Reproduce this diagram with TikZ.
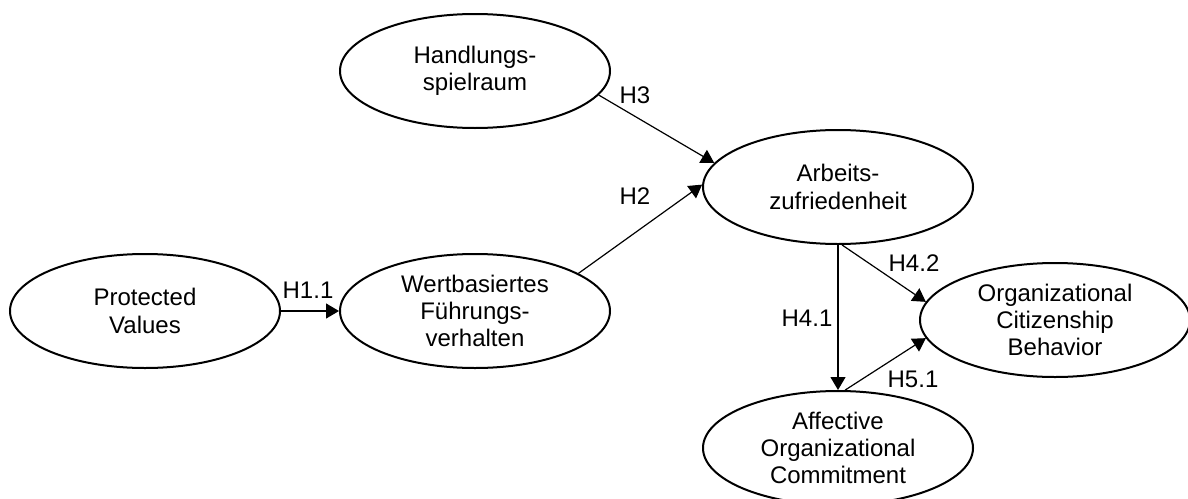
\documentclass[tikz,border=0pt]{standalone}
\usepackage{fontspec}
\setmainfont{Liberation Sans}
\usetikzlibrary{shapes.geometric,arrows.meta}
\begin{document}
\begin{tikzpicture}[x=0.5pt,y=-0.5pt,
  construct/.style={draw=black, line width=1pt, ellipse, minimum width=135pt, minimum height=57pt,
    inner sep=0pt, align=center, font=\fontsize{12}{13.6}\selectfont},
  arr/.style={draw=black, line width=0.6pt, -{Triangle[length=6.5pt,width=7.5pt]}},
  lab/.style={inner sep=0pt, font=\fontsize{12}{13.6}\selectfont}]
\useasboundingbox[fill=white] (0,0) rectangle (1188,498);
\node[construct] (hand) at (475,71) {Handlungs-\\spielraum};
\node[construct] (arb) at (838,187) {Arbeits-\\zufriedenheit};
\node[construct] (prot) at (145,311) {Protected\\Values};
\node[construct] (wert) at (475,311) {Wertbasiertes\\Führungs-\\verhalten};
\node[construct] (ocb) at (1055,320) {Organizational\\Citizenship\\Behavior};
\node[construct] (aff) at (838,448) {Affective\\Organizational\\Commitment};
\draw[arr] (prot) -- (wert);
\draw[arr] (hand.-11) -- (arb.169);
\draw[arr] (wert.20) -- (arb.179);
\draw[arr] (arb.south) -- (aff.north);
\draw[arr] (arb.-86) -- (ocb.172);
\draw[arr] (aff.83) -- (ocb.-172);
\node[lab] (l11) at (308,290) {H1.1};
\node[lab] (l3) at (635,95) {H3};
\node[lab] (l2) at (635,196) {H2};
\node[lab] (l41) at (807,318) {H4.1};
\node[lab] (l42) at (914,263) {H4.2};
\node[lab] (l51) at (913,379) {H5.1};
\end{tikzpicture}
\end{document}
